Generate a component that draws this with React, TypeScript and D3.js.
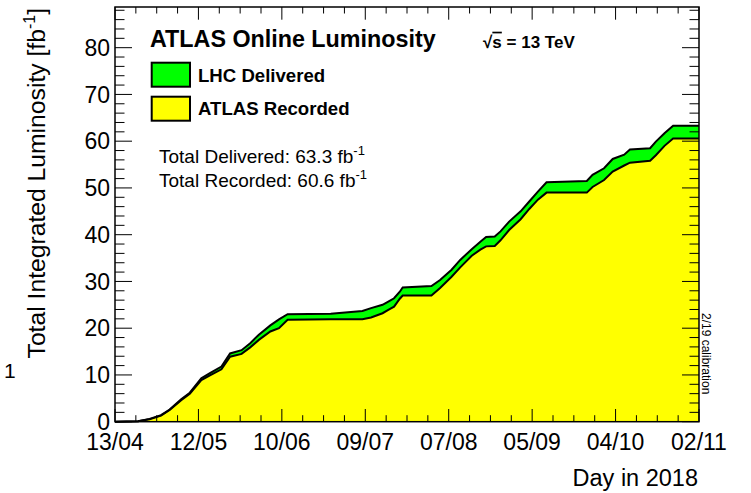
import React from "react";
import * as d3 from "d3";

// Day offsets from 13/04/2018
const dayOffsets = [0, 8, 12, 16, 19, 23, 26, 30, 33, 37, 40, 44, 47, 50, 54, 57, 60, 75, 86, 89, 93, 95, 97, 99, 100, 110, 113, 117, 120, 124, 127, 129, 132, 134, 137, 141, 144, 147, 150, 164, 166, 170, 173, 177, 179, 186, 188, 191, 194, 203];
const delivered = [0, 0.1, 0.6, 1.4, 2.6, 4.8, 6.2, 9.3, 10.4, 11.8, 14.6, 15.3, 16.8, 18.6, 20.6, 21.9, 23.0, 23.1, 23.7, 24.3, 25.0, 25.7, 26.4, 27.8, 28.7, 29.0, 30.3, 32.5, 34.6, 36.9, 38.5, 39.5, 39.6, 40.7, 42.8, 45.0, 47.1, 49.2, 51.2, 51.5, 52.8, 54.2, 56.2, 57.1, 58.2, 58.5, 59.9, 61.7, 63.3, 63.3];
const recorded = [0, 0.1, 0.5, 1.3, 2.5, 4.6, 6.0, 8.9, 9.9, 11.2, 13.9, 14.5, 15.9, 17.5, 19.3, 20.0, 21.8, 21.9, 21.9, 22.3, 23.2, 23.9, 24.6, 26.3, 27.0, 27.0, 28.6, 31.0, 33.0, 35.5, 36.8, 37.5, 37.6, 38.8, 41.0, 43.3, 45.5, 47.5, 49.0, 49.0, 50.2, 51.7, 53.5, 54.8, 55.4, 55.8, 57.0, 59.0, 60.6, 60.6];

const xTickDays = [0, 29, 58, 87, 116, 145, 174, 203];
const xTickLabels = ["13/04", "12/05", "10/06", "09/07", "07/08", "05/09", "04/10", "02/11"];
const yTickValues = [0, 10, 20, 30, 40, 50, 60, 70, 80];

const FONT = "'Liberation Sans', Arial, Helvetica, sans-serif";

export default function App() {
  const W = 751, H = 493;
  const L = 115, R = 699, T = 7, B = 421.7;
  const x = d3.scaleLinear().domain([0, 203]).range([L, R]);
  const y = d3.scaleLinear().domain([0, 88.7]).range([B, T]);

  const pts = dayOffsets.map((d, i) => ({ d, del: delivered[i], rec: recorded[i] }));
  const areaDel = d3.area<any>().x(p => x(p.d)).y0(y(0)).y1(p => y(p.del));
  const areaRec = d3.area<any>().x(p => x(p.d)).y0(y(0)).y1(p => y(p.rec));
  const lineDel = d3.line<any>().x(p => x(p.d)).y(p => y(p.del));
  const lineRec = d3.line<any>().x(p => x(p.d)).y(p => y(p.rec));

  const xMinor: { d: number; major: boolean }[] = [];
  for (let i = 0; i <= 28; i++) xMinor.push({ d: (i * 29) / 4, major: i % 4 === 0 });
  const yMinor: { v: number; major: boolean }[] = [];
  for (let v = 0; v <= 88; v += 2) yMinor.push({ v, major: v % 10 === 0 });

  return (
    <svg width={W} height={H} style={{ position: "absolute", left: 0, top: 0, background: "#fff" }} fontFamily={FONT}>
      <rect x={0} y={0} width={W} height={H} fill="#fff" />
      <path d={areaDel(pts) || ""} fill="#00ff00" />
      <path d={areaRec(pts) || ""} fill="#ffff00" />
      <path d={lineDel(pts) || ""} fill="none" stroke="#000" strokeWidth={2} />
      <path d={lineRec(pts) || ""} fill="none" stroke="#000" strokeWidth={2} />

      {/* x ticks bottom and top */}
      {xMinor.map((t, i) => (
        <g key={"xt" + i}>
          <line x1={x(t.d)} x2={x(t.d)} y1={B} y2={B - (t.major ? 12.7 : 6.5)} stroke="#000" strokeWidth={1} />
          <line x1={x(t.d)} x2={x(t.d)} y1={T} y2={T + (t.major ? 12.7 : 6.5)} stroke="#000" strokeWidth={1} />
        </g>
      ))}
      {/* y ticks left and right */}
      {yMinor.map((t, i) => (
        <g key={"yt" + i}>
          <line x1={L} x2={L + (t.major ? 17 : 9.5)} y1={y(t.v)} y2={y(t.v)} stroke="#000" strokeWidth={1} />
          <line x1={R} x2={R - (t.major ? 17 : 9.5)} y1={y(t.v)} y2={y(t.v)} stroke="#000" strokeWidth={1} />
        </g>
      ))}
      <rect x={L} y={T} width={R - L} height={B - T} fill="none" stroke="#000" strokeWidth={1.5} />

      {/* tick labels */}
      {xTickDays.map((d, i) => (
        <text key={"xl" + i} x={x(d)} y={450} fontSize={23} textAnchor="middle" fill="#000">{xTickLabels[i]}</text>
      ))}
      {yTickValues.map((v, i) => (
        <text key={"yl" + i} x={110} y={y(v) + 8.3} fontSize={23} textAnchor="end" fill="#000">{v}</text>
      ))}

      {/* axis titles */}
      <text x={698} y={486} fontSize={23.5} textAnchor="end" fill="#000">Day in 2018</text>
      <text transform="translate(45,8) rotate(-90)" fontSize={24.7} textAnchor="end" fill="#000">
        Total Integrated Luminosity [fb<tspan fontSize={16} dy={-10}>-1</tspan><tspan dy={10}>]</tspan>
      </text>
      <text x={4} y={378} fontSize={21} fill="#000">1</text>

      {/* header */}
      <text x={150} y={47} fontSize={23.3} fontWeight="bold" fill="#000">ATLAS Online Luminosity</text>
      <text x={483} y={47.7} fontSize={17} fontWeight="bold" fill="#000">√<tspan textDecoration="overline">s</tspan> = 13 TeV</text>

      {/* legend */}
      <rect x={151.7} y={62.7} width={38.3} height={24} fill="#00ff00" stroke="#000" strokeWidth={2} />
      <rect x={151.7} y={96.7} width={38.3} height={24} fill="#ffff00" stroke="#000" strokeWidth={2} />
      <text x={198} y={81.7} fontSize={18.6} fontWeight="bold" fill="#000">LHC Delivered</text>
      <text x={198} y={115} fontSize={18.6} fontWeight="bold" fill="#000">ATLAS Recorded</text>

      <text x={159} y={162.7} fontSize={19} fill="#000">Total Delivered: 63.3 fb<tspan fontSize={13} dy={-8}>-1</tspan></text>
      <text x={159} y={186.7} fontSize={19} fill="#000">Total Recorded: 60.6 fb<tspan fontSize={13} dy={-8}>-1</tspan></text>

      <text transform="translate(702,313) rotate(90)" fontSize={12} fill="#000">2/19 calibration</text>
    </svg>
  );
}
